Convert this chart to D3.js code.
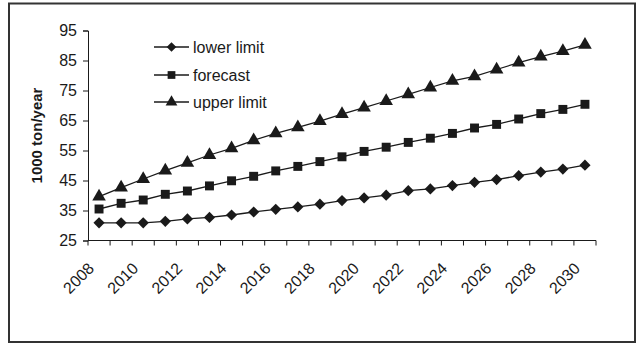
<!DOCTYPE html>
<html>
<head>
<meta charset="utf-8">
<script src="https://cdn.jsdelivr.net/npm/d3@7"></script>
<style>
  html, body { margin: 0; padding: 0; background: #fff; }
  svg { display: block; }
  text { font-family: "Liberation Sans", Arial, sans-serif; fill: #1a1a1a; }
</style>
</head>
<body>
<svg id="chart" width="637" height="344"></svg>
<script>
// Years on the category axis
const years = [2008, 2009, 2010, 2011, 2012, 2013, 2014, 2015, 2016, 2017, 2018, 2019,
               2020, 2021, 2022, 2023, 2024, 2025, 2026, 2027, 2028, 2029, 2030];

// Series values, 1000 ton/year
const lowerLimit = [30.9, 30.9, 30.9, 31.4, 32.2, 32.7, 33.5, 34.5, 35.4, 36.2, 37.1, 38.3,
                    39.2, 40.1, 41.6, 42.2, 43.3, 44.4, 45.3, 46.6, 47.8, 48.8, 50.1];
const forecast   = [35.5, 37.4, 38.5, 40.4, 41.5, 43.2, 44.9, 46.4, 48.2, 49.7, 51.3, 52.9,
                    54.7, 56.1, 57.7, 59.1, 60.7, 62.5, 63.7, 65.5, 67.3, 68.7, 70.4];
const upperLimit = [39.6, 42.6, 45.5, 48.3, 50.9, 53.5, 55.7, 58.4, 60.7, 62.7, 64.8, 67.1,
                    69.3, 71.5, 73.7, 76.0, 78.2, 79.7, 82.0, 84.3, 86.3, 88.1, 90.2];

// Axis ticks
const yTicks = [25, 35, 45, 55, 65, 75, 85, 95];
const xTickLabels = [2008, 2010, 2012, 2014, 2016, 2018, 2020, 2022, 2024, 2026, 2028, 2030];

const seriesNames = ["lower limit", "forecast", "upper limit"];
const seriesValues = [lowerLimit, forecast, upperLimit];
const seriesSymbols = [d3.symbolDiamond2, d3.symbolSquare, d3.symbolTriangle];

const ink = "#1a1a1a";
const svg = d3.select("#chart");

// Outer frame
svg.append("rect")
  .attr("x", 9).attr("y", 3.5).attr("width", 626).attr("height", 338.5)
  .attr("fill", "none").attr("stroke", "#333").attr("stroke-width", 2);

const plot = { left: 88, right: 596, top: 30.5, bottom: 240.5 };

const x = d3.scaleBand().domain(years).range([plot.left, plot.right]);
const y = d3.scaleLinear().domain([25, 95]).range([plot.bottom, plot.top]);
const cx = d => x(d) + x.bandwidth() / 2;

// Y axis
const yAxis = svg.append("g")
  .attr("transform", `translate(${plot.left},0)`)
  .call(d3.axisLeft(y).tickValues(yTicks).tickSize(5).tickPadding(6).tickFormat(d3.format("d")));
yAxis.select(".domain").attr("stroke", ink);
yAxis.selectAll(".tick line").attr("stroke", ink);
yAxis.selectAll(".tick text").attr("font-size", 16).attr("fill", ink)
  .attr("font-family", "Liberation Sans, Arial, sans-serif");

// X axis: ticks between categories
const xAxisG = svg.append("g").attr("transform", `translate(0,${plot.bottom})`);
xAxisG.append("line")
  .attr("x1", plot.left).attr("x2", plot.right)
  .attr("stroke", ink);
const boundaries = years.map(d => x(d)).concat([plot.right]);
xAxisG.selectAll("line.tk").data(boundaries).join("line")
  .attr("class", "tk")
  .attr("x1", d => d).attr("x2", d => d)
  .attr("y1", 0).attr("y2", 5)
  .attr("stroke", ink);
xAxisG.selectAll("text").data(xTickLabels).join("text")
  .attr("transform", d => `translate(${cx(d) - 8},${25}) rotate(-45)`)
  .attr("text-anchor", "end")
  .attr("dy", "0.35em")
  .attr("font-size", 16)
  .text(d => d);

// Y axis title
svg.append("text")
  .attr("transform", `translate(42,${(plot.top + plot.bottom) / 2}) rotate(-90)`)
  .attr("text-anchor", "middle")
  .attr("font-size", 15)
  .attr("font-weight", "bold")
  .text("1000 ton/year");

// Lines and markers
const line = d3.line().x((d, i) => cx(years[i])).y(d => y(d));
seriesValues.forEach((vals, s) => {
  svg.append("path")
    .datum(vals)
    .attr("d", line)
    .attr("fill", "none")
    .attr("stroke", ink)
    .attr("stroke-width", 1.3);
  svg.append("g").selectAll("path").data(vals).join("path")
    .attr("transform", (d, i) => `translate(${cx(years[i])},${y(d)})`)
    .attr("d", d3.symbol().type(seriesSymbols[s]).size(s === 2 ? 80 : 80))
    .attr("fill", ink);
});

// Legend
const legend = svg.append("g");
const legendRows = [47, 75, 102];
seriesNames.forEach((name, s) => {
  const g = legend.append("g").attr("transform", `translate(0,${legendRows[s]})`);
  g.append("line").attr("x1", 154).attr("x2", 189)
    .attr("stroke", ink).attr("stroke-width", 1.3);
  g.append("path")
    .attr("transform", "translate(171.5,0)")
    .attr("d", d3.symbol().type(seriesSymbols[s]).size(60))
    .attr("fill", ink);
  g.append("text").attr("x", 193).attr("dy", "0.35em")
    .attr("font-size", 16).text(name);
});
</script>
</body>
</html>
